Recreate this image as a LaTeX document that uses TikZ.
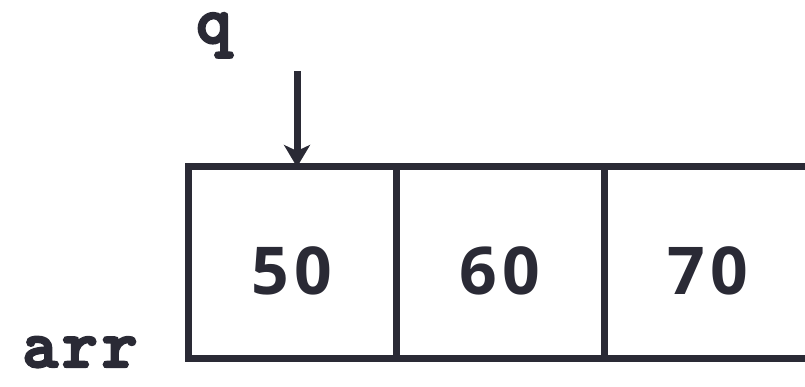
\documentclass[tikz,border=0pt]{standalone}
\usepackage{fontspec}
\newfontfamily\courfont[FakeBold=3.5]{lmmonolt10-bold.otf}
\newfontfamily\courwide[FakeBold=3.5,LetterSpace=6]{lmmonolt10-bold.otf}
\newfontfamily\numfont[LetterSpace=8]{Open Sans}
\usetikzlibrary{arrows.meta}
\definecolor{ink}{RGB}{42,42,53}
\tikzset{
  cell/.style={draw=ink, line width=7pt, minimum width=208pt, minimum height=192pt,
    inner sep=0pt, outer sep=0pt, font=\numfont\bfseries\fontsize{66}{66}\selectfont, text=ink,
    text height=63pt, text depth=0pt},
  lbl/.style={font=\courfont\fontsize{68}{68}\selectfont, text=ink, inner sep=0pt,
    text height=32pt, text depth=16pt},
  ptr/.style={draw=ink, line width=7pt, -{Stealth[length=22pt,width=26pt,inset=6pt]}}
}
\begin{document}
\begin{tikzpicture}[x=1pt,y=1pt]
\useasboundingbox (0,0) rectangle (805,387);
\clip (0,0) rectangle (805,387);
\node[cell] (c1) at (292,124) {50};
\node[cell] (c2) at (500,124) {60};
\node[cell] (c3) at (708,124) {70};
\node[lbl, anchor=base] (q) at (214,344) {q};
\node[lbl, anchor=base, font=\courwide\fontsize{68}{68}\selectfont] (arr) at (80,20) {arr};
\coordinate (qs) at (297,316);
\draw[ptr] (qs) -- (c1.north -| qs);
\end{tikzpicture}
\end{document}
